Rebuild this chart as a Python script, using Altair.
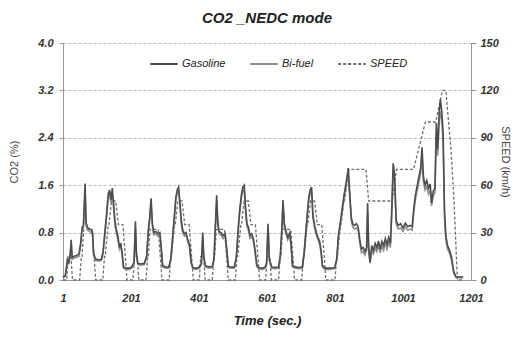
import altair as alt
import pandas as pd

# ---------------- data ----------------
# NEDC speed profile (km/h) breakpoints
speed_time = [1, 12, 16, 24, 26, 29, 50, 55, 57, 62, 86, 94, 97, 118, 123, 125, 134, 136, 144, 156, 164, 177, 186, 189,
              196, 207, 211, 219, 221, 224, 245, 250, 252, 257, 281, 289, 292, 313, 318, 320, 329, 331, 339, 351, 359, 372, 381, 384,
              391, 402, 406, 414, 416, 419, 440, 445, 447, 452, 476, 484, 487, 508, 513, 515, 524, 526, 534, 546, 554, 567, 576, 579,
              586, 597, 601, 609, 611, 614, 635, 640, 642, 647, 671, 679, 682, 703, 708, 710, 719, 721, 729, 741, 749, 762, 771, 774,
              781, 801, 806, 808, 817, 819, 827, 829, 842, 892, 900, 969, 982, 1032, 1067, 1097, 1117, 1127, 1143, 1151, 1161, 1181]
speed_val = [0, 0, 15, 15, 10, 0, 0, 15, 15, 32, 32, 10, 0, 0, 15, 15, 35, 35, 50, 50, 35, 35, 10, 0,
             0, 0, 15, 15, 10, 0, 0, 15, 15, 32, 32, 10, 0, 0, 15, 15, 35, 35, 50, 50, 35, 35, 10, 0,
             0, 0, 15, 15, 10, 0, 0, 15, 15, 32, 32, 10, 0, 0, 15, 15, 35, 35, 50, 50, 35, 35, 10, 0,
             0, 0, 15, 15, 10, 0, 0, 15, 15, 32, 32, 10, 0, 0, 15, 15, 35, 35, 50, 50, 35, 35, 10, 0,
             0, 0, 15, 15, 35, 35, 50, 50, 70, 70, 50, 50, 70, 70, 100, 100, 120, 120, 80, 50, 0, 0]

co2_time = [1, 8, 14, 18, 22, 25, 28, 33, 40, 48, 53, 57, 61, 66, 69, 74, 79, 84, 88, 91, 96, 105, 114, 119, 124, 129, 134, 138, 142, 146, 150, 154, 158, 163, 167, 171, 175, 179, 185, 192,
            196, 203, 210, 214, 217, 221, 230, 240, 247, 252, 256, 260, 264, 268, 274, 280, 286, 290, 294, 303, 312, 318, 323, 328, 333, 337, 341, 345, 349, 353, 358, 363, 368, 373, 378, 383, 389,
            394, 402, 408, 412, 415, 420, 430, 440, 445, 449, 453, 456, 460, 466, 472, 478, 483, 487, 495, 505, 511, 516, 521, 526, 530, 534, 538, 542, 546, 551, 556, 561, 566, 571, 576, 583,
            588, 596, 600, 604, 608, 615, 625, 635, 640, 645, 648, 652, 656, 662, 668, 672, 676, 685, 695, 705, 710, 715, 720, 724, 728, 732, 736, 741, 746, 751, 756, 760, 764, 772, 780,
            788, 800, 806, 811, 816, 822, 828, 834, 840, 845, 849, 853, 858, 864, 869, 874, 879, 884, 889, 894, 897, 900, 904, 909, 914, 919, 924, 929, 934, 939, 944, 949, 954, 959, 964, 968,
            972, 976, 981, 987, 994, 1001, 1008, 1015, 1022, 1028, 1033, 1038, 1043, 1048, 1053, 1057, 1061, 1066, 1071, 1076, 1081, 1085, 1090, 1095, 1099, 1103, 1107, 1111, 1115, 1119,
            1123, 1127, 1132, 1138, 1144, 1150, 1156, 1162, 1170, 1178]

gasoline = [0.05, 0.08, 0.35, 0.30, 0.42, 0.68, 0.38, 0.40, 0.41, 0.44, 0.62, 0.88, 0.92, 1.63, 0.96, 0.88, 0.86, 0.85, 0.80, 0.45, 0.36, 0.34, 0.35, 0.48, 0.80, 1.10, 1.45, 1.52, 1.35, 1.55, 1.28, 0.98, 0.85, 0.72, 0.55, 0.62, 0.45, 0.22, 0.20, 0.20,
            0.20, 0.22, 0.30, 0.99, 0.45, 0.28, 0.27, 0.28, 0.40, 0.85, 1.05, 1.38, 0.95, 0.80, 0.82, 0.78, 0.80, 0.55, 0.24, 0.22, 0.22, 0.35, 0.70, 1.05, 1.40, 1.52, 1.57, 1.30, 1.00, 0.85, 0.78, 0.80, 0.68, 0.60, 0.30, 0.21, 0.20,
            0.20, 0.22, 0.28, 0.80, 0.40, 0.24, 0.22, 0.23, 0.35, 0.90, 1.43, 1.00, 0.82, 0.80, 0.75, 0.78, 0.50, 0.23, 0.22, 0.22, 0.40, 0.85, 1.20, 1.45, 1.57, 1.60, 1.22, 0.95, 0.90, 0.75, 0.78, 0.70, 0.50, 0.25, 0.21, 0.20,
            0.20, 0.22, 0.30, 0.95, 0.35, 0.22, 0.21, 0.22, 0.40, 0.90, 1.35, 0.95, 0.85, 0.72, 0.80, 0.60, 0.24, 0.22, 0.21, 0.22, 0.45, 0.80, 1.15, 1.40, 1.52, 1.57, 1.10, 0.92, 0.80, 0.72, 0.65, 0.50, 0.24, 0.20, 0.20,
            0.20, 0.21, 0.35, 0.75, 0.95, 1.20, 1.45, 1.65, 1.89, 1.40, 1.05, 0.95, 0.92, 0.95, 0.90, 0.68, 0.52, 0.55, 0.48, 0.55, 1.30, 0.55, 0.30, 0.58, 0.50, 0.62, 0.55, 0.66, 0.52, 0.65, 0.58, 0.70, 0.60, 0.72, 0.62, 1.20,
            1.97, 1.80, 1.00, 0.92, 0.95, 0.88, 0.96, 0.90, 0.92, 0.90, 1.23, 1.45, 1.60, 1.75, 1.90, 2.24, 1.75, 1.60, 1.68, 1.55, 1.62, 1.30, 1.50, 1.55, 2.65, 2.20, 2.80, 3.05, 2.85, 2.48,
            1.20, 0.75, 0.58, 0.50, 0.38, 0.15, 0.06, 0.05, 0.05, 0.05]

bifuel = [0.04, 0.06, 0.30, 0.28, 0.40, 0.60, 0.35, 0.37, 0.38, 0.40, 0.58, 0.84, 0.88, 1.45, 0.92, 0.84, 0.82, 0.80, 0.76, 0.42, 0.33, 0.32, 0.33, 0.45, 0.76, 1.05, 1.40, 1.48, 1.30, 1.45, 1.20, 0.92, 0.80, 0.66, 0.52, 0.58, 0.42, 0.20, 0.18, 0.18,
          0.18, 0.20, 0.27, 0.90, 0.42, 0.26, 0.25, 0.26, 0.38, 0.80, 1.00, 1.30, 0.90, 0.76, 0.78, 0.74, 0.75, 0.50, 0.22, 0.20, 0.20, 0.33, 0.66, 1.00, 1.35, 1.48, 1.50, 1.25, 0.95, 0.80, 0.74, 0.76, 0.64, 0.56, 0.28, 0.19, 0.18,
          0.18, 0.20, 0.26, 0.74, 0.38, 0.22, 0.20, 0.21, 0.33, 0.85, 1.35, 0.95, 0.78, 0.76, 0.70, 0.74, 0.46, 0.21, 0.20, 0.20, 0.38, 0.80, 1.15, 1.40, 1.50, 1.52, 1.15, 0.90, 0.85, 0.70, 0.73, 0.66, 0.46, 0.23, 0.19, 0.18,
          0.18, 0.20, 0.28, 0.88, 0.33, 0.20, 0.19, 0.20, 0.38, 0.85, 1.28, 0.90, 0.80, 0.68, 0.75, 0.55, 0.22, 0.20, 0.19, 0.20, 0.42, 0.76, 1.10, 1.35, 1.46, 1.50, 1.05, 0.88, 0.76, 0.68, 0.60, 0.46, 0.22, 0.18, 0.18,
          0.18, 0.19, 0.32, 0.70, 0.90, 1.15, 1.40, 1.60, 1.80, 1.35, 1.00, 0.90, 0.86, 0.88, 0.84, 0.62, 0.46, 0.48, 0.42, 0.50, 1.15, 0.48, 0.28, 0.50, 0.44, 0.55, 0.48, 0.58, 0.46, 0.57, 0.50, 0.62, 0.52, 0.64, 0.55, 1.10,
          1.85, 1.70, 0.95, 0.86, 0.88, 0.82, 0.90, 0.84, 0.86, 0.84, 1.15, 1.38, 1.52, 1.66, 1.80, 2.10, 1.65, 1.52, 1.58, 1.45, 1.52, 1.25, 1.42, 1.48, 2.45, 2.10, 2.60, 2.85, 2.70, 2.30,
          1.05, 0.68, 0.52, 0.45, 0.33, 0.12, 0.05, 0.04, 0.04, 0.04]

series_names = ["Gasoline", "Bi-fuel", "SPEED"]
series_colors = ["#4d4d4d", "#8f8f8f", "#6e6e6e"]
series_dash = [[1, 0], [1, 0], [3, 2]]

x_ticks = [1, 201, 401, 601, 801, 1001, 1201]
co2_ticks = [0.0, 0.8, 1.6, 2.4, 3.2, 4.0]
speed_ticks = [0, 30, 60, 90, 120, 150]

# ---------------- frames ----------------
co2_df = pd.concat([
    pd.DataFrame({"time": co2_time, "value": bifuel, "series": "Bi-fuel"}),
    pd.DataFrame({"time": co2_time, "value": gasoline, "series": "Gasoline"}),
], ignore_index=True)
speed_df = pd.DataFrame({"time": speed_time, "value": speed_val, "series": "SPEED"})

FONT = "Liberation Sans"

x_enc = alt.X("time:Q",
              scale=alt.Scale(domain=[1, 1201], nice=False, zero=False),
              axis=alt.Axis(values=x_ticks, format="d", title="Time (sec.)", grid=False, ticks=False,
                            labelFlush=False, labelPadding=12, titlePadding=11, titleFontSize=13,
                            titleFontStyle="italic", titleFontWeight="bold",
                            domainColor="#999999"))

color_enc = alt.Color("series:N", title=None,
                      scale=alt.Scale(domain=series_names, range=series_colors))
dash_enc = alt.StrokeDash("series:N", title=None,
                          scale=alt.Scale(domain=series_names, range=series_dash))

speed_layer = alt.Chart(speed_df).mark_line(strokeWidth=1.3).encode(
    x=x_enc,
    y=alt.Y("value:Q", scale=alt.Scale(domain=[0, 150], nice=False),
            axis=alt.Axis(orient="right", values=speed_ticks, title="SPEED (km/h)", grid=False,
                          labelFlush=False, tickSize=5, labelPadding=4, titlePadding=1,
                          titleFontWeight="normal",
                          titleColor="#444444", domainColor="#999999", tickColor="#999999")),
    color=color_enc,
    strokeDash=dash_enc,
)

co2_layer = alt.Chart(co2_df).mark_line(strokeWidth=1.6).encode(
    x=x_enc,
    y=alt.Y("value:Q", scale=alt.Scale(domain=[0, 4], nice=False),
            axis=alt.Axis(orient="left", values=co2_ticks, format=".1f", title="CO2 (%)",
                          grid=True, gridDash=[3, 2], gridColor="#bbbbbb", labelFlush=False,
                          tickSize=4, labelPadding=6, titlePadding=18, titleFontWeight="normal",
                          titleColor="#444444", domainColor="#999999", tickColor="#999999")),
    color=color_enc,
    strokeDash=dash_enc,
)

chart = alt.layer(speed_layer, co2_layer).resolve_scale(y="independent").properties(
    width=408,
    height=237,
    padding={"left": 55, "top": 35, "right": 43, "bottom": 53},
    autosize=alt.AutoSizeParams(type="none"),
    title=alt.Title("CO2 _NEDC mode", fontSize=15, fontStyle="italic", fontWeight="bold",
                    font=FONT, color="#222222", offset=11, anchor="middle"),
).configure(
    font=FONT,
).configure_view(
    stroke=None,
).configure_axis(
    labelFont=FONT, labelFontSize=11, labelFontStyle="italic", labelFontWeight="bold",
    labelColor="#333333", titleFont=FONT, titleFontSize=11, titleColor="#222222",
).configure_legend(
    orient="none", legendX=86, legendY=6, direction="horizontal",
    symbolType="stroke", symbolSize=760, symbolStrokeWidth=2,
    labelFont=FONT, labelFontSize=11, labelFontStyle="italic", labelColor="#222222",
    columnPadding=20, labelOffset=3,
)

chart.save("out.html", embed_options={"renderer": "svg", "actions": False})
